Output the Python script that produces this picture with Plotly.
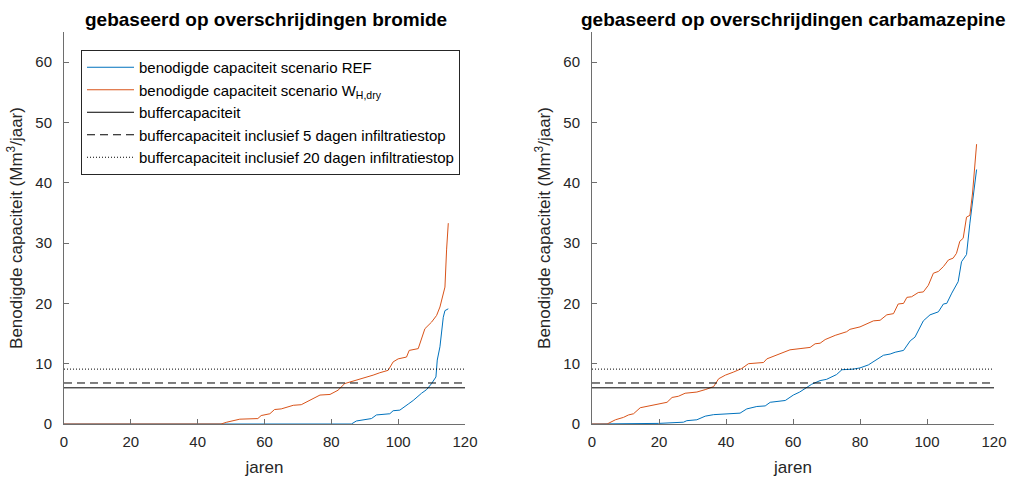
import plotly.graph_objects as go

# ---------------- data ----------------
# left panel: bromide
bromide_ref_x = [0, 86, 87.5, 92, 93.5, 97.5, 98.5, 100.5, 103, 104.5, 107, 108.5, 110,
                 111.3, 111.7, 112.5, 113.5, 114, 115]
bromide_ref_y = [0, 0, 0.5, 0.9, 1.5, 1.7, 2.2, 2.3, 3.3, 3.9, 5.1, 5.7, 6.7,
                 7.8, 10.6, 12.8, 17.7, 18.8, 19.1]

bromide_wh_x = [0, 47, 48.7, 52.6, 58, 59, 61.6, 63, 65, 67, 68.6, 71, 74, 76.6, 79.6, 82,
                84, 87, 89.5, 92.5, 94.5, 97, 98.5, 100, 102.5, 103.3, 106, 108, 110,
                111.5, 112.5, 114, 114.5, 115]
bromide_wh_y = [0, 0, 0.3, 0.8, 0.9, 1.4, 1.7, 2.4, 2.5, 2.8, 3.1, 3.2, 4.1, 4.8, 4.9, 5.6,
                6.7, 7.2, 7.5, 8.1, 8.5, 8.9, 10.3, 10.8, 11.1, 12.2, 12.5, 15.8, 16.9,
                18.0, 19.4, 22.7, 29.0, 33.3]

# right panel: carbamazepine
carba_ref_x = [0, 19.9, 27.3, 28.3, 31.3, 33.8, 36.3, 40.3, 44.2, 46.2, 49.2, 51.7, 53.2,
               57.7, 60.1, 62, 64.1, 65.6, 68.1, 70, 73, 74.6, 78, 80, 82.5, 85, 87, 89,
               90.5, 93, 95, 96.4, 98.9, 100.9, 103.4, 104.9, 105.9, 107.4, 109.3, 110.3,
               111.8, 112.8, 113.8, 114.8]
carba_ref_y = [0, 0.1, 0.3, 0.55, 0.7, 1.3, 1.55, 1.7, 1.8, 2.5, 2.9, 3.0, 3.6,
               3.9, 4.8, 5.3, 6.1, 6.6, 7.2, 7.4, 8.2, 9.0, 9.1, 9.3, 9.8, 10.7, 11.4, 11.6,
               11.9, 12.2, 13.8, 14.4, 17.1, 18.1, 18.6, 19.9, 20.0, 21.7, 23.6, 26.9,
               28.1, 33.3, 37.8, 42.2]

carba_wh_x = [0, 4.5, 7, 9.4, 10.9, 12.4, 14.4, 16.9, 19.4, 22.4, 23.9, 25.8, 27.8, 31.3,
              33.8, 36.3, 37.8, 39.8, 42.2, 44.7, 46.7, 51.2, 52.2, 54.7, 56.7, 59.1, 62.1,
              65.1, 66.6, 68.1, 69.6, 72.6, 76, 77, 80, 82.5, 84, 86, 88, 90, 91.4, 93, 94,
              95.4, 97.4, 98.9, 100.4, 101.9, 103.4, 104.9, 106.4, 107.8, 108.8, 109.8,
              110.8, 111.8, 112.8, 113.6, 114.3, 114.8]
carba_wh_y = [0, 0, 0.7, 1.1, 1.5, 1.7, 2.7, 3.0, 3.3, 3.6, 4.4, 4.6, 5.1, 5.3,
              5.7, 6.2, 7.5, 8.1, 8.6, 9.2, 10.0, 10.2, 10.8, 11.3, 11.8, 12.3, 12.5,
              12.7, 13.3, 13.4, 14.0, 14.7, 15.3, 15.7, 16.1, 16.7, 17.1, 17.2, 18.1, 18.3,
              19.9, 20.0, 21.0, 21.1, 21.8, 21.9, 23.0, 25.0, 25.3, 26.1, 27.2, 27.5, 28.3,
              30.3, 30.8, 34.3, 34.6, 38.3, 43.9, 46.4]

buffer_x = [0, 120]
buffer_levels = [6.0, 6.8, 9.1]  # buffer, +5 dagen, +20 dagen

series_names = [
    "benodigde capaciteit scenario REF",
    "benodigde capaciteit scenario W<sub>H,dry</sub>",
    "buffercapaciteit",
    "buffercapaciteit inclusief 5 dagen infiltratiestop",
    "buffercapaciteit inclusief 20 dagen infiltratiestop",
]
titles = ["gebaseerd op overschrijdingen bromide",
          "gebaseerd op overschrijdingen carbamazepine"]

x_ticks = [0, 20, 40, 60, 80, 100, 120]
y_ticks = [0, 10, 20, 30, 40, 50, 60]

# ---------------- styling ----------------
W, H = 1009, 477


def px(xpix):
    return xpix / W


def py(ypix):
    return 1 - ypix / H


BLUE = "#0072BD"
ORANGE = "#D95319"
AXC = "#6e6e6e"
FONT = "Liberation Sans, Arial, Helvetica, sans-serif"

fig = go.Figure()

panels = [
    (bromide_ref_x, bromide_ref_y, bromide_wh_x, bromide_wh_y, "x", "y", True),
    (carba_ref_x, carba_ref_y, carba_wh_x, carba_wh_y, "x2", "y2", False),
]
dashes = ["solid", "8px,5px", "1px,2px"]

for rx, ry, wx, wy, xa, ya, show in panels:
    fig.add_trace(go.Scatter(x=rx, y=ry, mode="lines", name=series_names[0],
                             line=dict(color=BLUE, width=1), xaxis=xa, yaxis=ya,
                             showlegend=show, legendrank=1))
    fig.add_trace(go.Scatter(x=wx, y=wy, mode="lines", name=series_names[1],
                             line=dict(color=ORANGE, width=1), xaxis=xa, yaxis=ya,
                             showlegend=show, legendrank=2))
    for i, lvl in enumerate(buffer_levels):
        fig.add_trace(go.Scatter(x=buffer_x, y=[lvl, lvl], mode="lines",
                                 name=series_names[2 + i],
                                 line=dict(color="#000000", width=1, dash=dashes[i]),
                                 xaxis=xa, yaxis=ya, showlegend=show,
                                 legendrank=3 + i))

x1 = (px(64), px(465))
x2 = (px(592), px(994))
ydom = (py(424), py(32))

axis_common = dict(showgrid=False, zeroline=False, showline=True, linecolor=AXC,
                   linewidth=1, ticks="inside", ticklen=5, tickcolor=AXC,
                   automargin=False,
                   tickfont=dict(family=FONT, size=15, color="#262626"))
xaxis_extra = dict(ticklabelstandoff=4,
                   title=dict(text="jaren", font=dict(size=17), standoff=12))
ylab = "Benodigde capaciteit (Mm<sup>3</sup>/jaar)"
yaxis_extra = dict(ticklabelstandoff=8,
                   title=dict(text=ylab, font=dict(size=17), standoff=8))

fig.update_layout(
    width=W, height=H,
    margin=dict(l=0, r=0, t=0, b=0, autoexpand=False),
    paper_bgcolor="white", plot_bgcolor="white",
    font=dict(family=FONT, color="#262626"),
    hovermode=False,
    xaxis=dict(domain=x1, range=[0, 120], tickvals=x_ticks, anchor="y",
               **xaxis_extra, **axis_common),
    yaxis=dict(domain=ydom, range=[0, 65], tickvals=y_ticks, anchor="x",
               **yaxis_extra, **axis_common),
    xaxis2=dict(domain=x2, range=[0, 120], tickvals=x_ticks, anchor="y2",
                **xaxis_extra, **axis_common),
    yaxis2=dict(domain=ydom, range=[0, 65], tickvals=y_ticks, anchor="x2",
                **yaxis_extra, **axis_common),
    legend=dict(x=px(81), y=py(50), xanchor="left", yanchor="top",
                bgcolor="white", bordercolor="#262626", borderwidth=1,
                font=dict(family=FONT, size=15, color="#000000"),
                tracegroupgap=0, itemwidth=47),
    showlegend=True,
)

for t, cx in zip(titles, [266, 793]):
    fig.add_annotation(text="<b>" + t + "</b>", x=px(cx), y=py(19),
                       xref="paper", yref="paper", xanchor="center", yanchor="middle",
                       showarrow=False, font=dict(family=FONT, size=19, color="#000000"))

# remove the browser's default page margin so the figure fills the window exactly
fig.write_html("out.html",
               config={"displayModeBar": False},
               post_script="document.body.style.margin='0';"
                           "document.body.style.overflow='hidden';")
